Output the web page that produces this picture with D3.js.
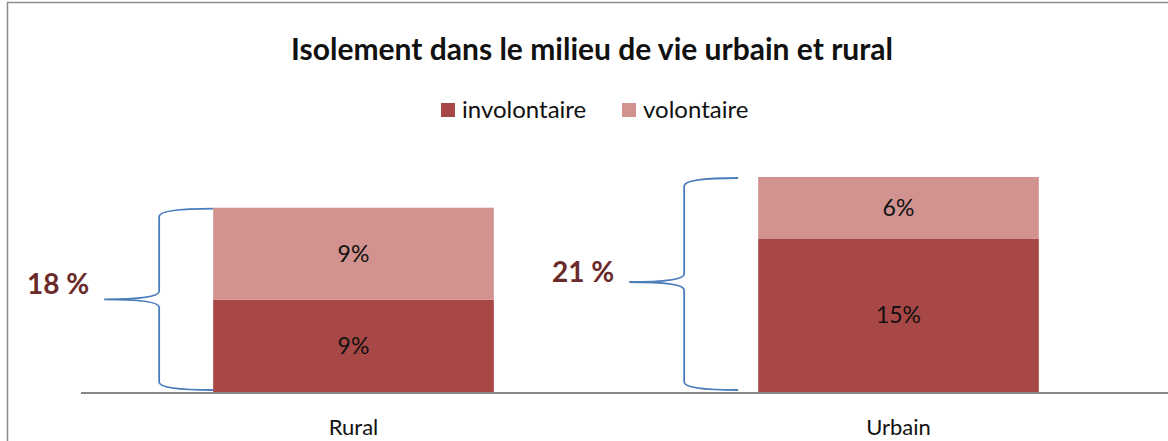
<!DOCTYPE html>
<html><head><meta charset="utf-8">
<script src="https://cdn.jsdelivr.net/npm/d3@7"></script>
<style>body{margin:0;background:#fff}svg{display:block}</style>
</head><body>
<script>
const categories = ["Rural", "Urbain"];
const involontaire = [9, 15];
const volontaire = [9, 6];
const totalLabels = ["18 %", "21 %"];
const seriesNames = ["involontaire", "volontaire"];
const colors = ["#A84846", "#D29390"];
const title = "Isolement dans le milieu de vie urbain et rural";

const W = 1168, H = 441;
const font = "Lato, 'Open Sans', sans-serif";
const svg = d3.select("body").append("svg").attr("width", W).attr("height", H);

svg.append("rect").attr("x", 7.5).attr("y", 2.5).attr("width", 1180).attr("height", 460)
  .attr("fill", "#fff").attr("stroke", "#8c8c8c").attr("stroke-width", 1.5);

const x = d3.scaleBand().domain(categories).range([81, 1171]).paddingInner(0.485).paddingOuter(0.2425);
const y = d3.scaleLinear().domain([0, 21]).range([392, 177]);

const stacked = d3.stack().keys([0, 1]).value((d, k) => [involontaire, volontaire][k][d])(categories.map((c, i) => i));

stacked.forEach((layer, k) => {
  svg.append("g").selectAll("rect").data(layer).join("rect")
    .attr("x", (d, i) => x(categories[i]))
    .attr("width", x.bandwidth())
    .attr("y", d => y(d[1]))
    .attr("height", d => y(d[0]) - y(d[1]))
    .attr("fill", colors[k]);
  svg.append("g").selectAll("text").data(layer).join("text")
    .attr("x", (d, i) => x(categories[i]) + x.bandwidth() / 2)
    .attr("y", d => (y(d[0]) + y(d[1])) / 2)
    .attr("dy", "0.35em").attr("text-anchor", "middle")
    .attr("font-family", font).attr("font-size", 23).attr("fill", "#111")
    .text(d => (d[1] - d[0]) + "%");
});

// axis baseline
svg.append("line").attr("x1", 81).attr("x2", W).attr("y1", 393).attr("y2", 393)
  .attr("stroke", "#888").attr("stroke-width", 2);

// category labels
svg.append("g").selectAll("text").data(categories).join("text")
  .attr("x", d => x(d) + x.bandwidth() / 2).attr("y", 427)
  .attr("dy", "0.35em").attr("text-anchor", "middle")
  .attr("font-family", font).attr("font-size", 22).attr("fill", "#111")
  .text(d => d);

// braces
categories.forEach((c, i) => {
  const total = involontaire[i] + volontaire[i];
  const top = y(total) + 1, bot = y(0) - 2;
  const xEnd = x(c) - (i === 0 ? 0 : 20);
  const xV = xEnd - 54;
  const xTip = xV - 55;
  const mid = (top + bot) / 2 + (i === 0 ? 0 : -2);
  const r = 8;
  const p = d3.path();
  p.moveTo(xEnd, top);
  p.quadraticCurveTo(xV, top, xV, top + r);
  p.lineTo(xV, mid - r);
  p.quadraticCurveTo(xV, mid, xTip, mid);
  p.quadraticCurveTo(xV, mid, xV, mid + r);
  p.lineTo(xV, bot - r);
  p.quadraticCurveTo(xV, bot, xEnd, bot);
  svg.append("path").attr("d", p.toString()).attr("fill", "none")
    .attr("stroke", "#4A7EBB").attr("stroke-width", 1.8);
  svg.append("text").attr("x", xTip - 15).attr("y", mid - (i === 0 ? 15 : 10)).attr("dy", "0.35em")
    .attr("text-anchor", "end").attr("font-family", font).attr("font-weight", "bold")
    .attr("font-size", 28).attr("fill", "#6B2A2A").text(totalLabels[i]);
});

// title
svg.append("text").attr("x", 592).attr("y", 49).attr("dy", "0.35em").attr("text-anchor", "middle")
  .attr("font-family", font).attr("font-weight", "bold").attr("font-size", 30).attr("fill", "#111")
  .text(title);

// legend
const legX = [441, 622];
seriesNames.forEach((n, k) => {
  svg.append("rect").attr("x", legX[k]).attr("y", 103).attr("width", 14).attr("height", 14).attr("fill", colors[k]);
  svg.append("text").attr("x", legX[k] + 21).attr("y", 110).attr("dy", "0.35em")
    .attr("font-family", font).attr("font-size", 24).attr("fill", "#111").text(n);
});
</script>
</body></html>
